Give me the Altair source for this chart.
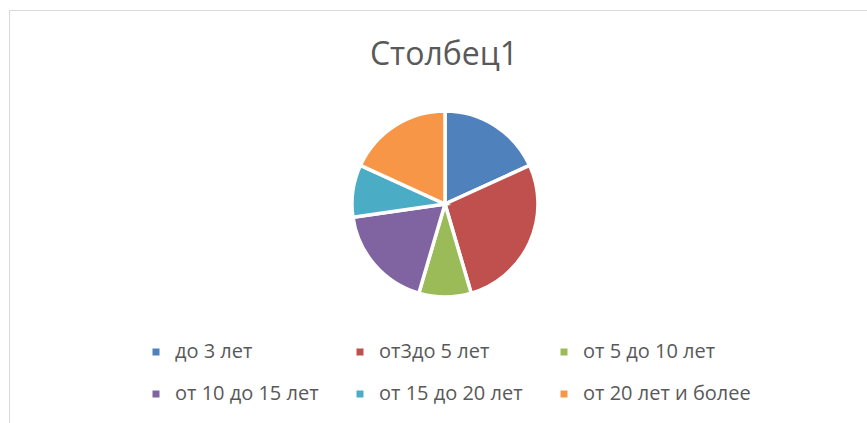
import altair as alt
import pandas as pd

categories = ["до 3 лет", "от3до 5 лет", "от 5 до 10 лет",
              "от 10 до 15 лет", "от 15 до 20 лет", "от 20 лет и более"]
values = [2, 3, 1, 2, 1, 2]
colors = ["#4F81BD", "#C0504D", "#9BBB59", "#8064A2", "#4BACC6", "#F79646"]
title_text = "Столбец1"

df = pd.DataFrame({"cat": categories, "val": values, "idx": list(range(len(values)))})

FONT = "Open Sans"

pie = alt.Chart(df).mark_arc(outerRadius=93, stroke="white", strokeWidth=3.5).encode(
    theta=alt.Theta("val:Q", stack=True),
    order=alt.Order("idx:Q"),
    color=alt.Color(
        "cat:N",
        scale=alt.Scale(domain=categories, range=colors),
        sort=categories,
        legend=alt.Legend(
            title=None, orient="none", legendX=146, legendY=342, columns=3,
            direction="horizontal",
            symbolType="square", symbolSize=49, symbolStrokeWidth=0,
            labelFont=FONT, labelFontSize=20, labelColor="#595959",
            columnPadding=31, rowPadding=22, labelOffset=9, labelLimit=300,
        ),
    ),
    x=alt.value(445),
    y=alt.value(204),
)

title = alt.Chart(pd.DataFrame({"t": [title_text]})).mark_text(
    font=FONT, fontSize=32, color="#595959", baseline="alphabetic", align="center"
).encode(text="t:N", x=alt.value(444), y=alt.value(65))

border_top = alt.Chart(pd.DataFrame({"a": [0]})).mark_rule(color="#D9D9D9", strokeWidth=1).encode(
    x=alt.value(9.5), x2=alt.value(867), y=alt.value(10.5)
)
border_left = alt.Chart(pd.DataFrame({"a": [0]})).mark_rule(color="#D9D9D9", strokeWidth=1).encode(
    x=alt.value(9.5), y=alt.value(10.5), y2=alt.value(423)
)

chart = alt.layer(border_top, border_left, pie, title).properties(
    width=867, height=423, padding=0, autosize=alt.AutoSizeParams(type="none"),
    background="white",
).configure_view(stroke=None)

chart.save("out.html", embed_options={"renderer": "svg", "actions": False})
